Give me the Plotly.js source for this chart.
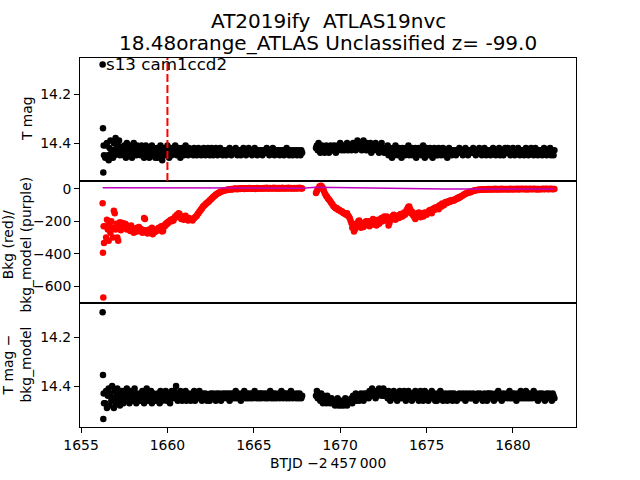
<!DOCTYPE html>
<html><head><meta charset="utf-8">
<script src="https://cdn.plot.ly/plotly-3.0.1.min.js"></script>
<style>html,body{margin:0;padding:0;background:#fff}#plot{width:640px;height:480px}</style>
</head><body><div id="plot"></div>
<script>
// ---- data (segment 1: sector start to mid-sector gap) ----
var time1 = [1656.25,1656.27,1656.29,1656.31,1656.33,
1656.40,1656.45,1656.50,1656.55,1656.60,1656.65,1656.70,1656.75,1656.80,1656.85,1656.90,1656.95,1657.00,1657.05,1657.10,1657.15,1657.20,1657.25,1657.30,1657.35,
1657.40,1657.45,1657.50,1657.55,1657.60,1657.65,1657.70,1657.75,1657.80,1657.85,1657.90,1657.95,1658.00,1658.05,1658.10,1658.15,1658.20,1658.25,1658.30,1658.35,
1658.40,1658.45,1658.50,1658.55,1658.60,1658.65,1658.70,1658.75,1658.80,1658.85,1658.90,1658.95,1659.00,1659.05,1659.10,1659.15,1659.20,1659.25,1659.30,1659.35,
1659.40,1659.45,1659.50,1659.55,1659.60,1659.65,1659.70,1659.75,1659.80,1659.85,1659.90,1659.95,1660.00,1660.05,1660.10,1660.15,1660.20,1660.25,1660.30,1660.35,
1660.40,1660.45,1660.50,1660.55,1660.60,1660.65,1660.70,1660.75,1660.80,1660.85,1660.90,1660.95,1661.00,1661.05,1661.10,1661.15,1661.20,1661.25,1661.30,1661.35,
1661.40,1661.45,1661.50,1661.55,1661.60,1661.65,1661.70,1661.75,1661.80,1661.85,1661.90,1661.95,1662.00,1662.05,1662.10,1662.15,1662.20,1662.25,1662.30,1662.35,
1662.40,1662.45,1662.50,1662.55,1662.60,1662.65,1662.70,1662.75,1662.80,1662.85,1662.90,1662.95,1663.00,1663.05,1663.10,1663.15,1663.20,1663.25,1663.30,1663.35,
1663.40,1663.45,1663.50,1663.55,1663.60,1663.65,1663.70,1663.75,1663.80,1663.85,1663.90,1663.95,1664.00,1664.05,1664.10,1664.15,1664.20,1664.25,1664.30,1664.35,
1664.40,1664.45,1664.50,1664.55,1664.60,1664.65,1664.70,1664.75,1664.80,1664.85,1664.90,1664.95,1665.00,1665.05,1665.10,1665.15,1665.20,1665.25,1665.30,1665.35,
1665.40,1665.45,1665.50,1665.55,1665.60,1665.65,1665.70,1665.75,1665.80,1665.85,1665.90,1665.95,1666.00,1666.05,1666.10,1666.15,1666.20,1666.25,1666.30,1666.35,
1666.40,1666.45,1666.50,1666.55,1666.60,1666.65,1666.70,1666.75,1666.80,1666.85,1666.90,1666.95,1667.00,1667.05,1667.10,1667.15,1667.20,1667.25,1667.30,1667.35,
1667.40,1667.45,1667.50,1667.55,1667.60,1667.65,1667.70,1667.75,1667.80];
var mag1 = [14.08,14.34,14.52,14.41,14.45,
14.46,14.41,14.40,14.45,14.47,14.42,14.39,14.44,14.43,14.46,14.40,14.45,14.38,14.42,14.44,14.41,14.39,14.45,14.43,14.42,
14.42,14.45,14.41,14.44,14.46,14.40,14.43,14.45,14.42,14.41,14.44,14.46,14.43,14.40,14.44,14.42,14.45,14.41,14.43,14.44,
14.43,14.45,14.41,14.44,14.42,14.46,14.43,14.41,14.45,14.44,14.42,14.46,14.43,14.44,14.41,14.45,14.42,14.44,14.46,14.43,
14.42,14.46,14.44,14.43,14.41,14.45,14.47,14.43,14.44,14.42,14.45,14.43,14.41,14.44,14.46,14.43,14.42,14.45,14.44,14.43,
14.43,14.41,14.44,14.45,14.43,14.42,14.44,14.46,14.43,14.42,14.44,14.45,14.43,14.41,14.44,14.43,14.45,14.42,14.44,14.43,
14.44,14.43,14.45,14.42,14.44,14.43,14.45,14.44,14.42,14.44,14.43,14.45,14.44,14.43,14.42,14.44,14.45,14.43,14.44,14.42,
14.43,14.45,14.44,14.42,14.43,14.45,14.44,14.43,14.42,14.44,14.45,14.43,14.44,14.42,14.44,14.43,14.45,14.44,14.43,14.44,
14.45,14.43,14.44,14.43,14.42,14.44,14.45,14.43,14.44,14.43,14.44,14.42,14.44,14.45,14.43,14.44,14.43,14.45,14.44,14.43,
14.42,14.44,14.43,14.45,14.44,14.43,14.42,14.44,14.43,14.44,14.45,14.43,14.44,14.42,14.44,14.43,14.45,14.44,14.43,14.44,
14.43,14.44,14.45,14.43,14.44,14.43,14.44,14.42,14.44,14.43,14.45,14.44,14.43,14.44,14.42,14.44,14.45,14.43,14.44,14.43,
14.44,14.43,14.45,14.44,14.43,14.44,14.43,14.45,14.44,14.43,14.42,14.44,14.43,14.45,14.44,14.43,14.44,14.45,14.43,14.44,
14.44,14.43,14.45,14.44,14.43,14.44,14.45,14.43,14.44];
var bkg1 = [-88,-394,-670,-230,-333,
-230,-300,-190,-250,-320,-215,-270,-200,-240,-300,-135,-150,-250,-215,-300,-320,-230,-205,-255,-215,
-210,-225,-240,-215,-220,-250,-235,-230,-245,-260,-225,-240,-255,-270,-245,-250,-265,-240,-250,-235,
-260,-245,-250,-270,-255,-180,-185,-255,-270,-275,-260,-250,-265,-250,-240,-280,-270,-255,-265,-260,
-250,-245,-240,-255,-235,-230,-262,-258,-225,-230,-215,-220,-205,-210,-200,-195,-190,-200,-185,-195,
-180,-170,-175,-160,-165,-150,-155,-175,-185,-170,-180,-190,-175,-165,-180,-185,-195,-180,-190,-185,
-190,-195,-185,-180,-175,-170,-165,-155,-150,-140,-135,-125,-120,-110,-105,-100,-95,-90,-85,-80,
-78,-70,-65,-60,-55,-50,-45,-40,-36,-32,-28,-25,-22,-20,-17,-15,-13,-11,-10,-8,
-7,-5,-6,-3,-4,-2,-1,-3,0,-1,2,0,1,-2,3,1,0,2,4,1,
2,0,3,5,1,4,2,6,3,1,4,2,5,3,0,4,6,2,3,5,
4,2,5,3,6,2,4,7,3,5,2,6,4,3,5,7,2,4,6,3,
3,6,4,2,5,7,3,5,4,6,2,5,7,4,3,6,4,5,3,6,
5,3,6,4,5,7,4,5,3];
var sub1 = [14.097,14.355,14.535,14.43,14.47,
14.47,14.42,14.49,14.44,14.41,14.48,14.43,14.46,14.40,14.45,14.49,14.42,14.47,14.44,14.41,14.46,14.43,14.48,14.45,14.42,
14.44,14.47,14.42,14.45,14.43,14.41,14.46,14.44,14.47,14.42,14.45,14.43,14.46,14.44,14.41,14.45,14.47,14.43,14.44,14.46,
14.45,14.43,14.46,14.42,14.44,14.47,14.43,14.45,14.41,14.44,14.46,14.43,14.45,14.42,14.47,14.44,14.43,14.46,14.44,14.45,
14.46,14.43,14.45,14.47,14.42,14.44,14.46,14.43,14.45,14.44,14.42,14.46,14.44,14.43,14.45,14.47,14.44,14.42,14.45,14.43,
14.42,14.45,14.40,14.44,14.46,14.43,14.45,14.42,14.44,14.46,14.43,14.45,14.44,14.42,14.46,14.44,14.43,14.45,14.44,14.46,
14.43,14.45,14.44,14.42,14.46,14.44,14.43,14.45,14.44,14.42,14.45,14.44,14.46,14.43,14.44,14.45,14.43,14.44,14.46,14.44,
14.44,14.46,14.43,14.45,14.44,14.43,14.45,14.44,14.46,14.43,14.44,14.45,14.43,14.44,14.46,14.44,14.43,14.45,14.44,14.43,
14.44,14.45,14.43,14.44,14.46,14.43,14.45,14.44,14.43,14.45,14.44,14.42,14.45,14.44,14.43,14.45,14.44,14.46,14.43,14.44,
14.44,14.42,14.45,14.44,14.43,14.45,14.44,14.43,14.45,14.44,14.43,14.45,14.44,14.42,14.44,14.45,14.43,14.44,14.45,14.43,
14.43,14.45,14.44,14.43,14.44,14.45,14.43,14.44,14.45,14.43,14.44,14.42,14.45,14.44,14.43,14.45,14.44,14.43,14.45,14.44,
14.44,14.43,14.45,14.44,14.42,14.44,14.45,14.43,14.44,14.43,14.45,14.44,14.43,14.45,14.44,14.42,14.44,14.45,14.43,14.44,
14.44,14.45,14.43,14.44,14.45,14.43,14.44,14.45,14.44];

// ---- segment 2: after the gap to sector end ----
var time2 = [
1668.60,1668.65,1668.70,1668.75,1668.80,1668.85,1668.90,1668.95,1669.00,1669.05,1669.10,1669.15,1669.20,1669.25,1669.30,1669.35,1669.40,1669.45,1669.50,1669.55,
1669.60,1669.65,1669.70,1669.75,1669.80,1669.85,1669.90,1669.95,1670.00,1670.05,1670.10,1670.15,1670.20,1670.25,1670.30,1670.35,1670.40,1670.45,1670.50,1670.55,
1670.60,1670.65,1670.70,1670.75,1670.80,1670.85,1670.90,1670.95,1671.00,1671.05,1671.10,1671.15,1671.20,1671.25,1671.30,1671.35,1671.40,1671.45,1671.50,1671.55,
1671.60,1671.65,1671.70,1671.75,1671.80,1671.85,1671.90,1671.95,1672.00,1672.05,1672.10,1672.15,1672.20,1672.25,1672.30,1672.35,1672.40,1672.45,1672.50,1672.55,
1672.60,1672.65,1672.70,1672.75,1672.80,1672.85,1672.90,1672.95,1673.00,1673.05,1673.10,1673.15,1673.20,1673.25,1673.30,1673.35,1673.40,1673.45,1673.50,1673.55,
1673.60,1673.65,1673.70,1673.75,1673.80,1673.85,1673.90,1673.95,1674.00,1674.05,1674.10,1674.15,1674.20,1674.25,1674.30,1674.35,1674.40,1674.45,1674.50,1674.55,
1674.60,1674.65,1674.70,1674.75,1674.80,1674.85,1674.90,1674.95,1675.00,1675.05,1675.10,1675.15,1675.20,1675.25,1675.30,1675.35,1675.40,1675.45,1675.50,1675.55,
1675.60,1675.65,1675.70,1675.75,1675.80,1675.85,1675.90,1675.95,1676.00,1676.05,1676.10,1676.15,1676.20,1676.25,1676.30,1676.35,1676.40,1676.45,1676.50,1676.55,
1676.60,1676.65,1676.70,1676.75,1676.80,1676.85,1676.90,1676.95,1677.00,1677.05,1677.10,1677.15,1677.20,1677.25,1677.30,1677.35,1677.40,1677.45,1677.50,1677.55,
1677.60,1677.65,1677.70,1677.75,1677.80,1677.85,1677.90,1677.95,1678.00,1678.05,1678.10,1678.15,1678.20,1678.25,1678.30,1678.35,1678.40,1678.45,1678.50,1678.55,
1678.60,1678.65,1678.70,1678.75,1678.80,1678.85,1678.90,1678.95,1679.00,1679.05,1679.10,1679.15,1679.20,1679.25,1679.30,1679.35,1679.40,1679.45,1679.50,1679.55,
1679.60,1679.65,1679.70,1679.75,1679.80,1679.85,1679.90,1679.95,1680.00,1680.05,1680.10,1680.15,1680.20,1680.25,1680.30,1680.35,1680.40,1680.45,1680.50,1680.55,
1680.60,1680.65,1680.70,1680.75,1680.80,1680.85,1680.90,1680.95,1681.00,1681.05,1681.10,1681.15,1681.20,1681.25,1681.30,1681.35,1681.40,1681.45,1681.50,1681.55,
1681.60,1681.65,1681.70,1681.75,1681.80,1681.85,1681.90,1681.95,1682.00,1682.05,1682.10,1682.15,1682.20,1682.25,1682.30,1682.35,1682.40];
var mag2 = [
14.42,14.41,14.43,14.40,14.42,14.44,14.43,14.41,14.43,14.42,14.44,14.42,14.41,14.43,14.42,14.44,14.43,14.41,14.42,14.43,
14.43,14.41,14.42,14.44,14.42,14.41,14.43,14.42,14.40,14.42,14.43,14.41,14.42,14.43,14.41,14.42,14.40,14.43,14.42,14.41,
14.41,14.43,14.42,14.40,14.42,14.41,14.43,14.41,14.39,14.42,14.41,14.40,14.42,14.43,14.41,14.39,14.42,14.41,14.43,14.40,
14.41,14.43,14.42,14.40,14.44,14.42,14.41,14.43,14.42,14.40,14.41,14.43,14.42,14.44,14.41,14.42,14.40,14.43,14.42,14.44,
14.42,14.44,14.43,14.41,14.45,14.43,14.42,14.44,14.46,14.43,14.42,14.45,14.41,14.44,14.43,14.45,14.42,14.44,14.43,14.46,
14.42,14.44,14.43,14.45,14.42,14.44,14.43,14.41,14.45,14.43,14.44,14.42,14.45,14.43,14.44,14.42,14.46,14.43,14.44,14.42,
14.44,14.42,14.45,14.43,14.41,14.44,14.46,14.43,14.42,14.44,14.43,14.45,14.42,14.44,14.43,14.46,14.44,14.42,14.43,14.45,
14.43,14.45,14.42,14.44,14.43,14.45,14.44,14.42,14.43,14.45,14.44,14.43,14.46,14.44,14.42,14.44,14.43,14.45,14.44,14.43,
14.44,14.43,14.45,14.44,14.43,14.44,14.42,14.44,14.43,14.44,14.45,14.43,14.44,14.42,14.44,14.43,14.45,14.44,14.43,14.44,
14.43,14.44,14.42,14.44,14.43,14.45,14.44,14.43,14.44,14.42,14.44,14.43,14.45,14.43,14.44,14.42,14.44,14.45,14.43,14.44,
14.44,14.43,14.45,14.43,14.44,14.42,14.44,14.43,14.45,14.44,14.43,14.44,14.42,14.45,14.43,14.44,14.43,14.45,14.44,14.42,
14.43,14.44,14.42,14.44,14.43,14.45,14.43,14.44,14.42,14.44,14.45,14.43,14.44,14.43,14.42,14.44,14.45,14.43,14.44,14.43,
14.43,14.45,14.44,14.42,14.44,14.43,14.45,14.43,14.44,14.42,14.44,14.43,14.45,14.44,14.42,14.43,14.44,14.45,14.43,14.44,
14.44,14.43,14.45,14.44,14.42,14.44,14.43,14.45,14.44,14.43,14.44,14.42,14.45,14.43,14.44,14.45,14.43];
var bkg2 = [
-25,-15,-5,5,15,18,20,12,5,-10,-25,-35,-45,-50,-60,-65,-72,-80,-88,-95,
-105,-110,-115,-120,-118,-125,-130,-128,-135,-140,-138,-145,-150,-148,-155,-160,-150,-165,-170,-180,
-195,-210,-240,-225,-262,-250,-215,-235,-230,-200,-195,-225,-240,-210,-220,-235,-225,-205,-200,-215,
-215,-200,-230,-220,-200,-210,-185,-220,-210,-195,-225,-205,-190,-215,-205,-185,-180,-200,-190,-170,
-195,-175,-170,-185,-225,-210,-185,-190,-175,-165,-160,-180,-190,-170,-165,-175,-180,-160,-155,-170,
-170,-155,-145,-160,-150,-130,-120,-110,-108,-125,-150,-140,-160,-165,-175,-185,-170,-150,-160,-145,
-160,-175,-165,-150,-170,-165,-145,-155,-160,-150,-140,-135,-130,-145,-150,-125,-120,-130,-115,-120,
-115,-110,-125,-100,-105,-110,-90,-95,-100,-90,-80,-88,-85,-78,-75,-80,-70,-75,-68,-72,
-72,-65,-60,-62,-55,-58,-50,-52,-45,-42,-40,-38,-32,-30,-28,-25,-24,-22,-18,-20,
-15,-14,-12,-10,-9,-8,-7,-6,-5,-6,-4,-3,-5,-4,-2,-3,-4,-2,-3,-1,
-3,-1,-4,-2,0,-3,-1,-2,1,-3,-2,0,-4,-1,-2,1,-3,0,-2,-1,
-2,0,-3,-1,-2,1,-2,0,-3,-1,0,-2,-1,1,-3,-1,0,-2,1,-1,
0,-2,-1,1,-3,-1,0,-2,1,-1,-2,0,-1,1,-2,0,-3,-1,0,-2,
-2,0,-1,1,-2,0,-1,1,0,-2,-1,0,1,-1,-2,0,-1];
var sub2 = [
14.44,14.42,14.45,14.43,14.44,14.46,14.43,14.45,14.47,14.44,14.46,14.45,14.47,14.44,14.46,14.45,14.47,14.46,14.45,14.47,
14.47,14.46,14.48,14.46,14.47,14.45,14.48,14.47,14.46,14.48,14.47,14.46,14.48,14.47,14.45,14.47,14.48,14.46,14.47,14.46,
14.46,14.45,14.47,14.44,14.46,14.45,14.43,14.46,14.44,14.45,14.46,14.44,14.43,14.45,14.44,14.46,14.43,14.45,14.44,14.43,
14.43,14.45,14.42,14.44,14.43,14.41,14.44,14.42,14.43,14.45,14.42,14.44,14.43,14.41,14.43,14.42,14.44,14.43,14.41,14.44,
14.42,14.44,14.43,14.45,14.42,14.44,14.46,14.43,14.45,14.44,14.42,14.45,14.43,14.44,14.46,14.43,14.44,14.42,14.45,14.43,
14.43,14.45,14.42,14.44,14.46,14.43,14.44,14.42,14.45,14.43,14.44,14.46,14.43,14.45,14.44,14.42,14.44,14.45,14.43,14.46,
14.44,14.42,14.45,14.43,14.46,14.44,14.42,14.45,14.43,14.44,14.46,14.43,14.45,14.44,14.42,14.45,14.44,14.43,14.46,14.44,
14.46,14.43,14.45,14.44,14.42,14.45,14.43,14.46,14.44,14.45,14.43,14.44,14.46,14.45,14.43,14.44,14.45,14.43,14.46,14.44,
14.43,14.45,14.44,14.46,14.44,14.45,14.43,14.44,14.45,14.44,14.43,14.45,14.44,14.46,14.43,14.44,14.45,14.44,14.43,14.45,
14.45,14.44,14.43,14.45,14.44,14.46,14.44,14.43,14.45,14.44,14.43,14.45,14.44,14.46,14.44,14.43,14.45,14.44,14.46,14.43,
14.43,14.45,14.44,14.43,14.45,14.44,14.46,14.44,14.43,14.45,14.44,14.42,14.45,14.43,14.44,14.46,14.44,14.43,14.45,14.44,
14.44,14.43,14.45,14.44,14.42,14.44,14.45,14.43,14.44,14.45,14.43,14.44,14.46,14.44,14.43,14.45,14.44,14.42,14.45,14.44,
14.43,14.45,14.44,14.42,14.45,14.44,14.43,14.45,14.44,14.43,14.45,14.44,14.42,14.44,14.45,14.43,14.44,14.46,14.44,14.43,
14.45,14.44,14.43,14.45,14.44,14.46,14.44,14.43,14.45,14.44,14.43,14.45,14.44,14.46,14.43,14.44,14.45];

var modelTime = [1656.25,1660,1664,1667.8,1668.6,1670,1672,1676,1680,1682.4];
var modelVal  = [8,6,5,5,10,8,2,-1,0,0];

var xTicks = [1655,1660,1665,1670,1675,1680];
var markTime = 1660;

var titleLine1 = 'AT2019ify\u00a0\u00a0ATLAS19nvc';
var titleLine2 = '18.48orange_ATLAS Unclassified z= -99.0';

// ---- plot ----
var t = time1.concat(time2);
var F = 'DejaVu Sans, sans-serif';
var ms = 6.5;

var traces = [
  {x: t, y: mag1.concat(mag2), xaxis: 'x3', yaxis: 'y3', mode: 'markers', type: 'scatter',
   marker: {color: 'black', size: ms}, hoverinfo: 'skip'},
  {x: t, y: bkg1.concat(bkg2), xaxis: 'x2', yaxis: 'y2', mode: 'markers', type: 'scatter',
   marker: {color: 'red', size: ms}, hoverinfo: 'skip'},
  {x: modelTime, y: modelVal, xaxis: 'x2', yaxis: 'y2', mode: 'lines', type: 'scatter',
   line: {color: '#bf00bf', width: 1.5}, hoverinfo: 'skip'},
  {x: t, y: sub1.concat(sub2), xaxis: 'x', yaxis: 'y', mode: 'markers', type: 'scatter',
   marker: {color: 'black', size: ms}, hoverinfo: 'skip'}
];

var xr = [1654.94, 1683.65];
function ax(extra) {
  var a = {showline: true, mirror: true, linecolor: 'black', linewidth: 1, ticks: 'outside',
    ticklen: 5, tickwidth: 1, tickcolor: 'black', showgrid: false, zeroline: false,
    tickfont: {family: F, size: 13.9, color: 'black'}};
  for (var k in extra) a[k] = extra[k];
  return a;
}
var d1 = 124 / 369, d2 = 246 / 369;

var layout = {
  width: 640, height: 480,
  margin: {l: 80, r: 64, t: 58, b: 53},
  paper_bgcolor: 'white', plot_bgcolor: 'white',
  showlegend: false,
  xaxis: ax({range: xr, anchor: 'y', tickvals: xTicks, ticktext: xTicks.map(String)}),
  xaxis2: ax({range: xr, anchor: 'y2', matches: 'x', showticklabels: false, ticks: ''}),
  xaxis3: ax({range: xr, anchor: 'y3', matches: 'x', showticklabels: false, ticks: ''}),
  yaxis: ax({domain: [0, d1], range: [14.568, 14.059], tickvals: [14.2, 14.4], ticktext: ['14.2', '14.4']}),
  yaxis2: ax({domain: [d1, d2], range: [-704, 49], tickvals: [0, -200, -400, -600], ticktext: ['0', '\u2212200', '\u2212400', '\u2212600']}),
  yaxis3: ax({domain: [d2, 1], range: [14.555, 14.053], tickvals: [14.2, 14.4], ticktext: ['14.2', '14.4']}),
  shapes: [
    {type: 'line', xref: 'x3', yref: 'y3 domain', x0: markTime, x1: markTime, y0: 0, y1: 1,
     line: {color: 'red', width: 2, dash: '8px,3px'}}
  ],
  annotations: [
    {text: titleLine1, xref: 'paper', yref: 'paper', x: 0.5, y: 1.099, xanchor: 'center', yanchor: 'middle',
     showarrow: false, font: {family: F, size: 20, color: 'black'}},
    {text: titleLine2, xref: 'paper', yref: 'paper', x: 0.5, y: 1.042, xanchor: 'center', yanchor: 'middle',
     showarrow: false, font: {family: F, size: 20, color: 'black'}},
    {text: 's13 cam1ccd2', xref: 'paper', yref: 'paper', x: 0.048, y: 0.9837, xanchor: 'left', yanchor: 'middle',
     showarrow: false, font: {family: F, size: 16.7, color: 'black'}},
    {text: 'T mag', xref: 'paper', yref: 'paper', x: -0.1069, y: 0.837, xanchor: 'center', yanchor: 'middle',
     textangle: -90, showarrow: false, font: {family: F, size: 13.9, color: 'black'}},
    {text: 'Bkg (red)/<br>bkg_model (purple)', xref: 'paper', yref: 'paper', x: -0.126, y: 0.493, xanchor: 'center', yanchor: 'middle',
     textangle: -90, showarrow: false, font: {family: F, size: 13.9, color: 'black'}},
    {text: 'T mag \u2212<br>bkg_model', xref: 'paper', yref: 'paper', x: -0.128, y: 0.168, xanchor: 'center', yanchor: 'middle',
     textangle: -90, showarrow: false, font: {family: F, size: 13.9, color: 'black'}},
    {text: 'BTJD \u22122\u2009457\u2009000', xref: 'paper', yref: 'paper', x: 0.5, y: -0.0976, xanchor: 'center', yanchor: 'middle',
     showarrow: false, font: {family: F, size: 13.9, color: 'black'}}
  ]
};

Plotly.newPlot('plot', traces, layout, {displayModeBar: false, staticPlot: true});
</script>
</body></html>
